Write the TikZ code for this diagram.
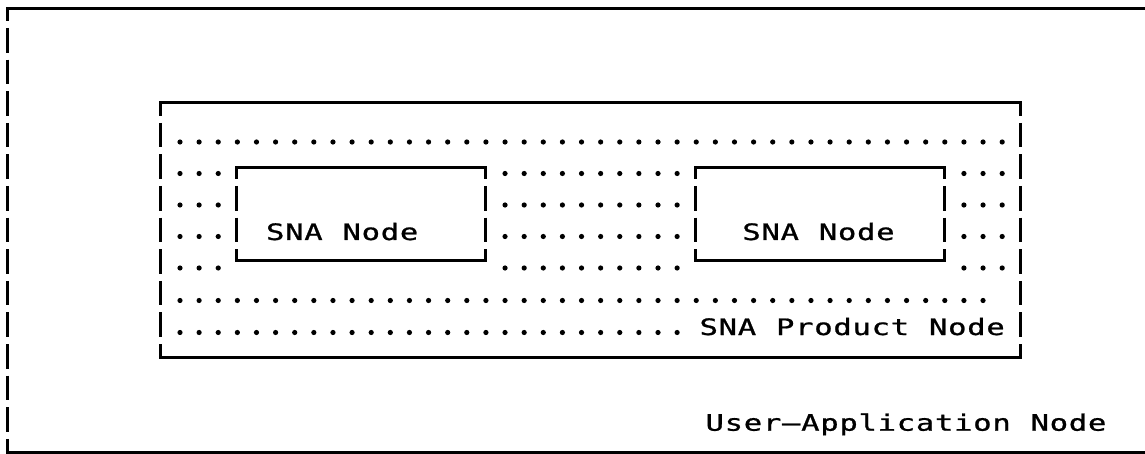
\documentclass[tikz,border=0pt]{standalone}
\usepackage{fontspec}
\usepackage{graphicx}
\newfontfamily\monofont[FakeBold=0.8]{DejaVu Sans Mono}
\newlength\cw \setlength\cw{19.12pt}
\def\cells#1{\ifx#1\relax\else\makebox[\cw][c]{\scalebox{1.35}[1]{#1}}\expandafter\cells\fi}
\tikzset{
  hline/.style={line width=3pt, line cap=rect},
  vbar/.style={line width=3pt, line cap=butt, dash pattern=on 24.6pt off 7pt},
  dotmark/.style={fill=black},
  txt/.style={inner sep=0pt, anchor=base west, font=\fontsize{22.6pt}{24pt}\selectfont\monofont},
  area/.style={inner sep=0pt, draw=none}
}
\begin{document}
\begin{tikzpicture}[x=1pt, y=-1pt]
\useasboundingbox (0,0) rectangle (1145,454);
% corner coordinates of the boxes
\coordinate (uNW) at (7,9);     \coordinate (uNE) at (1145,9);
\coordinate (uSW) at (7,452);   \coordinate (uSE) at (1145,452);
\coordinate (pNW) at (160,103); \coordinate (pNE) at (1020,103);
\coordinate (pSW) at (160,357.5); \coordinate (pSE) at (1020,357.5);
\coordinate (aNW) at (236,168); \coordinate (aNE) at (485,168);
\coordinate (aSW) at (236,261); \coordinate (aSE) at (485,261);
\coordinate (bNW) at (695.5,168); \coordinate (bNE) at (944.5,168);
\coordinate (bSW) at (695.5,261); \coordinate (bSE) at (944.5,261);

% dotted fill of the product node
\foreach \c in {0,...,43} \fill[dotmark] (180+19.12*\c,142) circle (2.6);
\foreach \y in {173.5,205,236.5,268}{
  \foreach \c in {0,1,2,17,18,19,20,21,22,23,24,25,26,41,42,43}
    \fill[dotmark] (180+19.12*\c,\y) circle (2.6);
}
\foreach \c in {0,...,42} \fill[dotmark] (180+19.12*\c,300.5) circle (2.6);
\foreach \c in {0,...,26} \fill[dotmark] (180+19.12*\c,332.5) circle (2.6);

% user-application node frame
\draw[hline] (uNW) -- (uNE);
\draw[hline] (uSW) -- (uSE);
\draw[vbar, dash phase=12.6pt] (uNW) -- (uSW);

% SNA product node frame
\draw[hline] (pNW) -- (pNE);
\draw[hline] (pSW) -- (pSE);
\draw[vbar, dash phase=11.8pt] (pNW) -- (pSW);
\draw[vbar, dash phase=11.8pt] (pNE) -- (pSE);

% SNA node boxes
\foreach \b in {a,b}{
  \draw[hline] (\b NW) -- (\b NE);
  \draw[hline] (\b SW) -- (\b SE);
  \draw[vbar, dash phase=13.6pt] (\b NW) -- (\b SW);
  \draw[vbar, dash phase=13.6pt] (\b NE) -- (\b SE);
}

% labels
\node[txt] (snaA) at (265.5,240) {\cells SNA~Node\relax};
\node[txt] (snaB) at (741.8,240) {\cells SNA~Node\relax};
\node[txt] (prod) at (699,335) {\cells SNA~Product~Node\relax};
\node[txt] (user) at (705,430.7) {\cells User–Application~Node\relax};
\end{tikzpicture}
\end{document}
